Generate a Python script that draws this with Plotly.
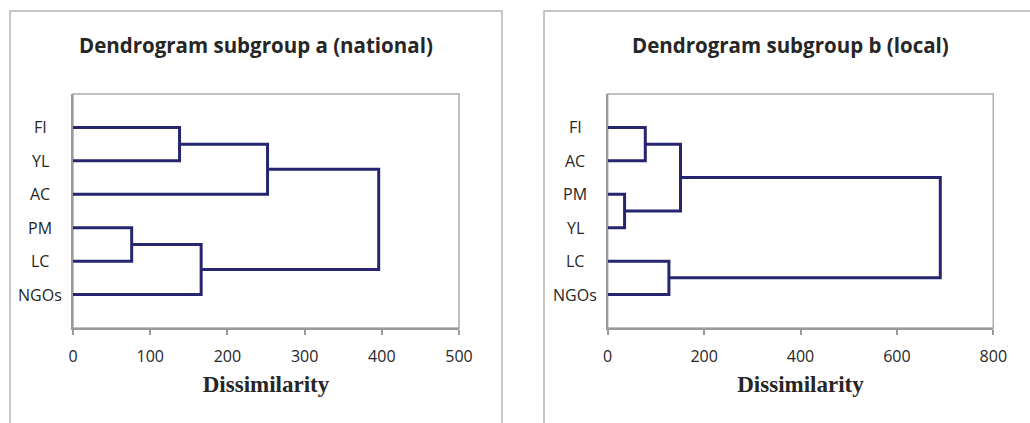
import plotly.graph_objects as go

# ---------------- data ----------------
leaves_a = ["FI", "YL", "AC", "PM", "LC", "NGOs"]
# merges: (child 1, child 2, dissimilarity); "cK" refers to the K-th merge
merges_a = [("FI", "YL", 138), ("c0", "AC", 252), ("PM", "LC", 76),
            ("c2", "NGOs", 166), ("c1", "c3", 396)]

leaves_b = ["FI", "AC", "PM", "YL", "LC", "NGOs"]
merges_b = [("FI", "AC", 78), ("PM", "YL", 35), ("c0", "c1", 151),
            ("LC", "NGOs", 127), ("c2", "c3", 690)]

title_a = "Dendrogram subgroup a (national)"
title_b = "Dendrogram subgroup b (local)"
xtitle = "Dissimilarity"
xticks_a = [0, 100, 200, 300, 400, 500]
xticks_b = [0, 200, 400, 600, 800]

LINE = "#25266f"
AXIS = "#9a9a9c"
BOX = "#b4b4b4"
TXT = "#262626"
SANS = "Open Sans"


def dendro_segments(leaves, merges):
    n = len(leaves)
    pos = {name: (0.0, float(n - i)) for i, name in enumerate(leaves)}
    xs, ys = [], []
    for k, (a, b, h) in enumerate(merges):
        xa, ya = pos[a]
        xb, yb = pos[b]
        xs += [xa, h, h, xb, None]
        ys += [ya, ya, yb, yb, None]
        pos["c%d" % k] = (h, (ya + yb) / 2)
    return xs, ys


W, H = 1030, 423
dom_a = [73 / W, 459 / W]
dom_b = [607.7 / W, 993.3 / W]
ydom = [1 - 328 / H, 1 - 94 / H]

fig = go.Figure()

xs, ys = dendro_segments(leaves_a, merges_a)
fig.add_trace(go.Scatter(x=xs, y=ys, mode="lines", line=dict(color=LINE, width=3),
                         xaxis="x", yaxis="y", showlegend=False, hoverinfo="skip"))
xs, ys = dendro_segments(leaves_b, merges_b)
fig.add_trace(go.Scatter(x=xs, y=ys, mode="lines", line=dict(color=LINE, width=3),
                         xaxis="x2", yaxis="y2", showlegend=False, hoverinfo="skip"))

tickfont = dict(family=SANS, size=16, color=TXT)
titlefont = dict(family="Liberation Serif", size=23, color=TXT, weight="bold")


def xaxis(dom, ticks, anchor):
    return dict(domain=dom, range=[ticks[0], ticks[-1]], tickvals=ticks,
                ticks="outside", ticklen=5, tickwidth=1.5, tickcolor=AXIS,
                ticklabelstandoff=8,
                showline=True, linecolor=AXIS, linewidth=2, mirror=False,
                showgrid=False, zeroline=False, tickfont=tickfont,
                title=dict(text=xtitle, font=titlefont, standoff=10),
                anchor=anchor, fixedrange=True, automargin=False)


def xaxis_inner(dom, ticks, overlay, anchor):
    return dict(domain=dom, range=[ticks[0], ticks[-1]], tickvals=ticks,
                ticks="inside", ticklen=6, tickwidth=1.5, tickcolor=AXIS,
                showline=False, showticklabels=False, showgrid=False,
                zeroline=False, overlaying=overlay, anchor=anchor)


def yaxis(anchor, n):
    return dict(domain=ydom, range=[0, n + 1], showticklabels=False, ticks="",
                showline=True, linecolor=AXIS, linewidth=2, showgrid=False,
                zeroline=False, anchor=anchor, fixedrange=True, automargin=False)


fig.update_layout(
    width=W, height=H,
    margin=dict(l=0, r=0, t=0, b=0, autoexpand=False),
    paper_bgcolor="white", plot_bgcolor="white",
    xaxis=xaxis(dom_a, xticks_a, "y"),
    yaxis=yaxis("x", len(leaves_a)),
    xaxis2=xaxis(dom_b, xticks_b, "y2"),
    yaxis2=yaxis("x2", len(leaves_b)),
    xaxis3=xaxis_inner(dom_a, xticks_a, "x", "y"),
    xaxis4=xaxis_inner(dom_b, xticks_b, "x2", "y2"),
)

shapes = []
# plot area borders
for dom in (dom_a, dom_b):
    shapes.append(dict(type="rect", xref="paper", yref="paper",
                       x0=dom[0], x1=dom[1], y0=ydom[0], y1=ydom[1],
                       line=dict(color="#ababab", width=1.5), layer="below"))
# outer chart boxes
shapes.append(dict(type="rect", xref="paper", yref="paper",
                   x0=10 / W, x1=502 / W, y0=-0.1, y1=1 - 11 / H,
                   line=dict(color=BOX, width=1.5)))
shapes.append(dict(type="rect", xref="paper", yref="paper",
                   x0=544 / W, x1=1.1, y0=-0.1, y1=1 - 11 / H,
                   line=dict(color=BOX, width=1.5)))
fig.update_layout(shapes=shapes)

annotations = []
# category labels, centred in the left margin of each plot
for leaves, yref, cx in ((leaves_a, "y", 40 / W), (leaves_b, "y2", 575 / W)):
    n = len(leaves)
    for i, name in enumerate(leaves):
        annotations.append(dict(text=name, x=cx, xref="paper", y=n - i, yref=yref,
                                showarrow=False, xanchor="center", yanchor="middle",
                                font=dict(family=SANS, size=16, color=TXT)))
# titles
for t, cx in ((title_a, 256 / W), (title_b, 790 / W)):
    annotations.append(dict(text="<b>%s</b>" % t, x=cx, xref="paper",
                            y=1 - 45 / H, yref="paper", showarrow=False,
                            xanchor="center", yanchor="middle",
                            font=dict(family=SANS, size=20.5, color=TXT)))
fig.update_layout(annotations=annotations)

fig.write_html("out.html",
               config={"displayModeBar": False},
               post_script="document.body.style.margin='0';"
                           "document.body.style.overflow='hidden';")
